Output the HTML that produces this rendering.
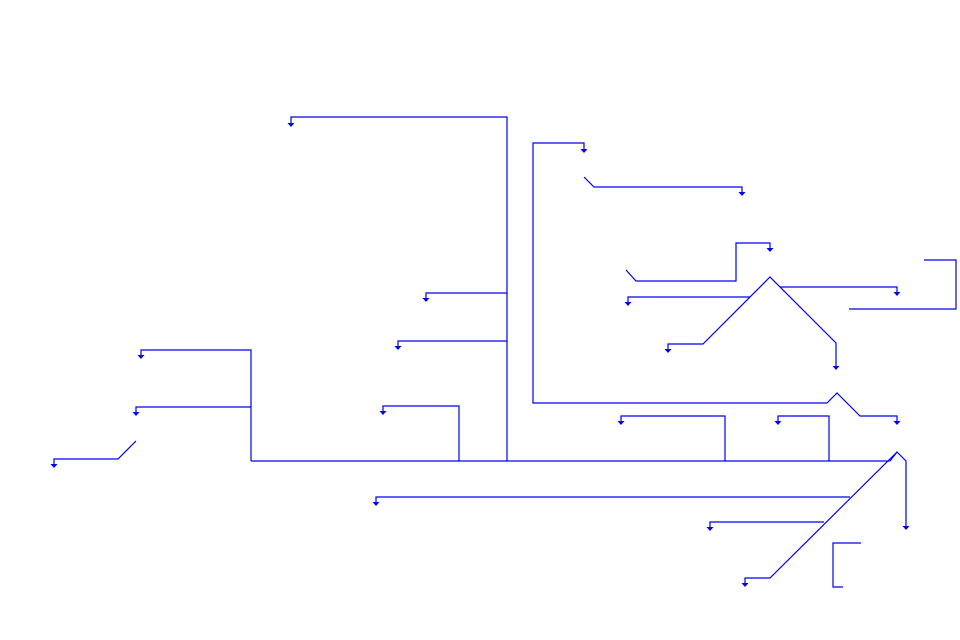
<!DOCTYPE html>
<html><head><meta charset="utf-8"><style>html,body{margin:0;padding:0;background:#fff}svg{display:block}</style></head>
<body>
<svg width="960" height="640" viewBox="0 0 960 640" xmlns="http://www.w3.org/2000/svg">
<defs>
<g id="a"><polygon points="-3.5,0 3.5,0 0,4" fill="#0000f0"/></g>
</defs>
<g fill="none" stroke="#0000f0" stroke-width="1.2">
<polyline points="291,124 291,117 507,117 507,461"/>
<polyline points="507,293 426,293 426,298"/>
<polyline points="507,341 398,341 398,346"/>
<polyline points="251,461 890,461"/>
<polyline points="251,461 251,350 141,350 141,355"/>
<polyline points="251,407 136,407 136,412"/>
<polyline points="136,441 118,459 54,459 54,464"/>
<polyline points="459,461 459,406 383,406 383,411"/>
<polyline points="725,461 725,416 621,416 621,421"/>
<polyline points="829,461 829,416 778,416 778,421"/>
<polyline points="584,150 584,143 533,143 533,403 827,403 837,393 860,416 897,416 897,421"/>
<polyline points="584,177 594,187 742,187 742,192"/>
<polyline points="626,270 636,281 736,281 736,243 770,243 770,248"/>
<polyline points="668,350 668,344 703,344 770,277 836,343 836,366"/>
<polyline points="780,287 897,287 897,292"/>
<polyline points="750,297 628,297 628,302"/>
<polyline points="924,260 956,260 956,309 849,309"/>
<polyline points="890,461 897,452 906,461 906,526"/>
<polyline points="897,452 770,578 745,578 745,583"/>
<polyline points="850,497 376,497 376,502"/>
<polyline points="824,522 710,522 710,527"/>
<polyline points="861,543 833,543 833,587 843,587"/>
</g>
<use href="#a" x="291" y="123"/>
<use href="#a" x="426" y="298"/>
<use href="#a" x="398" y="346"/>
<use href="#a" x="141" y="355"/>
<use href="#a" x="136" y="412"/>
<use href="#a" x="54" y="464"/>
<use href="#a" x="383" y="411"/>
<use href="#a" x="621" y="421"/>
<use href="#a" x="778" y="421"/>
<use href="#a" x="584" y="149"/>
<use href="#a" x="897" y="421"/>
<use href="#a" x="742" y="192"/>
<use href="#a" x="770" y="248"/>
<use href="#a" x="668" y="349"/>
<use href="#a" x="836" y="366"/>
<use href="#a" x="897" y="292"/>
<use href="#a" x="628" y="302"/>
<use href="#a" x="906" y="526"/>
<use href="#a" x="745" y="583"/>
<use href="#a" x="376" y="502"/>
<use href="#a" x="710" y="527"/>
</svg>
</body></html>
